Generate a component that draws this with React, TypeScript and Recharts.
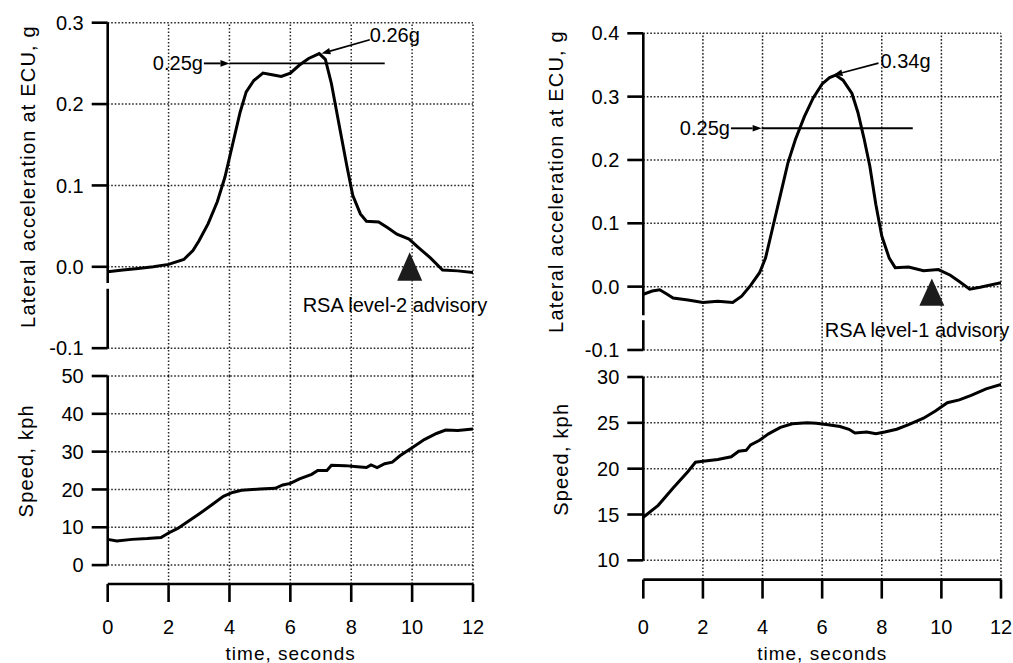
import React from 'react';
import { LineChart, Line, XAxis, YAxis, ReferenceLine } from 'recharts';

const FONT = '"Liberation Sans", Arial, Helvetica, sans-serif';

// ---------- data ----------
const timeTicks = [0, 2, 4, 6, 8, 10, 12];
const gridTimes = [2, 4, 6, 8, 10, 12];

// Left panel — lateral acceleration (g)
const leftAccelTime = [0, 0.5, 1.0, 1.5, 2.0, 2.5, 2.8, 3.0, 3.3, 3.6, 3.85, 4.1, 4.35, 4.55, 4.8, 5.1, 5.4, 5.7, 6.0, 6.3, 6.6, 6.95, 7.15, 7.35, 7.6, 7.85, 8.05, 8.3, 8.5, 8.9, 9.2, 9.5, 9.9, 10.2, 10.6, 11.0, 11.5, 12.0];
const leftAccel = [-0.006, -0.004, -0.002, 0.0, 0.003, 0.009, 0.02, 0.032, 0.053, 0.08, 0.11, 0.15, 0.19, 0.215, 0.229, 0.238, 0.236, 0.234, 0.238, 0.248, 0.256, 0.262, 0.255, 0.225, 0.175, 0.125, 0.088, 0.065, 0.056, 0.055, 0.048, 0.04, 0.034, 0.024, 0.011, -0.004, -0.005, -0.007];

// Left panel — speed (kph)
const leftSpeedTime = [0, 0.3, 0.8, 1.3, 1.75, 2.0, 2.3, 2.6, 3.0, 3.4, 3.8, 4.1, 4.4, 5.0, 5.5, 5.75, 6.0, 6.3, 6.7, 6.9, 7.2, 7.35, 7.8, 8.2, 8.5, 8.65, 8.85, 9.1, 9.35, 9.6, 10.0, 10.4, 10.8, 11.1, 11.5, 12.0];
const leftSpeed = [6.8, 6.4, 6.8, 7.0, 7.3, 8.5, 9.7, 11.3, 13.5, 15.8, 18.2, 19.2, 19.8, 20.1, 20.3, 21.2, 21.6, 22.8, 24.0, 25.0, 25.0, 26.4, 26.3, 26.0, 25.8, 26.5, 25.8, 26.8, 27.2, 28.9, 31.0, 33.2, 34.8, 35.7, 35.6, 36.0];

// Right panel — lateral acceleration (g)
const rightAccelTime = [0, 0.3, 0.55, 0.8, 1.0, 1.5, 2.0, 2.5, 3.0, 3.3, 3.6, 3.9, 4.1, 4.35, 4.6, 4.85, 5.1, 5.4, 5.7, 6.0, 6.25, 6.45, 6.7, 7.0, 7.2, 7.4, 7.6, 7.8, 8.0, 8.25, 8.45, 8.9, 9.4, 9.9, 10.3, 10.6, 10.95, 11.3, 12.0];
const rightAccel = [-0.012, -0.007, -0.005, -0.012, -0.018, -0.021, -0.025, -0.023, -0.025, -0.015, 0.002, 0.022, 0.045, 0.095, 0.145, 0.195, 0.232, 0.268, 0.298, 0.32, 0.33, 0.334, 0.326, 0.305, 0.275, 0.235, 0.19, 0.13, 0.08, 0.045, 0.03, 0.031, 0.025, 0.027, 0.018, 0.008, -0.004, -0.001, 0.006];

// Right panel — speed (kph)
const rightSpeedTime = [0, 0.5, 1.0, 1.5, 1.75, 2.0, 2.5, 2.95, 3.2, 3.45, 3.6, 3.9, 4.2, 4.6, 5.0, 5.5, 5.8, 6.2, 6.6, 6.9, 7.1, 7.5, 7.8, 8.1, 8.5, 8.9, 9.4, 9.8, 10.2, 10.6, 11.0, 11.5, 12.0];
const rightSpeed = [14.7, 16.0, 17.9, 19.7, 20.7, 20.8, 21.0, 21.3, 21.9, 22.0, 22.6, 23.1, 23.8, 24.5, 24.9, 25.0, 24.95, 24.8, 24.6, 24.3, 23.9, 24.0, 23.8, 24.0, 24.3, 24.8, 25.5, 26.3, 27.2, 27.5, 28.0, 28.7, 29.2];

// axis ticks
const leftAccelTicks = [-0.1, 0, 0.1, 0.2, 0.3];
const rightAccelTicks = [-0.1, 0, 0.1, 0.2, 0.3, 0.4];
const leftSpeedTicks = [0, 10, 20, 30, 40, 50];
const rightSpeedTicks = [10, 15, 20, 25, 30];

// annotations (data coordinates)
const leftThreshold = { label: '0.25g', value: 0.25, arrowFrom: 3.16, from: 4, to: 9.1 };
const rightThreshold = { label: '0.25g', value: 0.25, arrowFrom: 2.94, from: 3.97, to: 9.04 };
const leftPeak = { label: '0.26g', textT: 8.61, textA: 0.279, t: 7.02, a: 0.262 };
const rightPeak = { label: '0.34g', textT: 7.89, textA: 0.353, t: 6.38, a: 0.334 };
const leftAdvisory = { label: 'RSA level-2 advisory', t: 9.92, base: -0.017, apex: 0.018 };
const rightAdvisory = { label: 'RSA level-1 advisory', t: 9.68, base: -0.03, apex: 0.013 };

const zip = (ts: number[], vs: number[]) => ts.map((t, i) => ({ t, v: vs[i] }));

// ---------- helpers ----------
const AXIS_W = 2.6;
const GRID_STROKE = '#000';
const GRID_DASH = '1.6 1.9';
const GRID_W = 1.5;

const vTitle = (text: string, x: number, y: number) => () => (
  <text x={x} y={y} transform={`rotate(-90 ${x} ${y})`} textAnchor="middle" fontSize={20}
    letterSpacing={1.2} fontFamily={FONT} fill="#000">{text}</text>
);

const hTitle = (text: string, x: number, y: number) => () => (
  <text x={x} y={y} textAnchor="middle" fontSize={19} letterSpacing={1} fontFamily={FONT} fill="#000">{text}</text>
);

const arrowShape = (label: string, dx: number, dy: number, anchor: 'start' | 'end', lw: number) => (p: any) => {
  const { x1, y1, x2, y2 } = p;
  const ang = Math.atan2(y2 - y1, x2 - x1);
  const L = 9, W = 3.3;
  const bx = x2 - L * Math.cos(ang), by = y2 - L * Math.sin(ang);
  const px = -Math.sin(ang) * W, py = Math.cos(ang) * W;
  return (
    <g>
      <line x1={x1} y1={y1} x2={bx} y2={by} stroke="#000" strokeWidth={lw} />
      <polygon points={`${x2},${y2} ${bx + px},${by + py} ${bx - px},${by - py}`} fill="#000" />
      <text x={x1 + dx} y={y1 + dy} textAnchor={anchor} fontSize={20} fontFamily={FONT} fill="#000">{label}</text>
    </g>
  );
};

const triangleShape = (label: string) => (p: any) => {
  const { x1, y1, x2, y2 } = p;
  const hw = 12.5;
  return (
    <g>
      <polygon points={`${x2},${y2} ${x1 - hw},${y1} ${x1 + hw},${y1}`} fill="#1c1c1c" />
      <text x={x1 - 107} y={y1 + 31} fontSize={20} fontFamily={FONT} fill="#000">{label}</text>
    </g>
  );
};

const plainLine = (p: any) => (
  <line x1={p.x1} y1={p.y1} x2={p.x2} y2={p.y2} stroke="#000" strokeWidth={1.9} />
);

const axisSeg = (p: any) => (
  <line x1={p.x1} y1={p.y1} x2={p.x2} y2={p.y2} stroke="#000" strokeWidth={AXIS_W} />
);

const gridSeg = (p: any) => (
  <line x1={p.x1} y1={p.y1} x2={p.x2} y2={p.y2} stroke={GRID_STROKE} strokeOpacity={0.85} strokeWidth={GRID_W} strokeDasharray={GRID_DASH} />
);

type TopCfg = {
  left: number; top: number; width: number; height: number;
  margin: { top: number; right: number; bottom: number; left: number };
  domain: [number, number]; ticks: number[];
  data: { t: number; v: number }[];
  axisSegments: [number, number][];
  threshold: typeof leftThreshold;
  peak: typeof leftPeak;
  peakDx: number; peakDy: number;
  advisory: typeof leftAdvisory;
  title: { x: number; y: number };
};

function TopChart({ cfg }: { cfg: TopCfg }) {
  return (
    <div style={{ position: 'absolute', left: cfg.left, top: cfg.top }}>
      <LineChart width={cfg.width} height={cfg.height} data={cfg.data} margin={cfg.margin}>
        <XAxis type="number" dataKey="t" domain={[0, 12]} ticks={timeTicks} allowDataOverflow hide />
        <YAxis type="number" domain={cfg.domain} ticks={cfg.ticks} allowDataOverflow interval={0} width={100}
          axisLine={false} stroke="#000" tickLine={{ stroke: '#000', strokeWidth: AXIS_W }} tickSize={16} tickMargin={8}
          tick={{ fill: '#000', fontSize: 20, fontFamily: FONT }}
          tickFormatter={(v: number) => v.toFixed(1)}
          label={{ value: 'Lateral acceleration at ECU, g', content: vTitle('Lateral acceleration at ECU, g', cfg.title.x, cfg.title.y) }} />
        {cfg.ticks.map((v) => (
          <ReferenceLine key={'h' + v} segment={[{ x: 0, y: v }, { x: 12, y: v }]} shape={gridSeg} />
        ))}
        {gridTimes.map((t) => (
          <ReferenceLine key={'v' + t} segment={[{ x: t, y: cfg.domain[0] }, { x: t, y: cfg.domain[1] }]} shape={gridSeg} />
        ))}
        {cfg.axisSegments.map(([a, b], i) => (
          <ReferenceLine key={'ax' + i} segment={[{ x: 0, y: a }, { x: 0, y: b }]} shape={axisSeg} />
        ))}
        <ReferenceLine segment={[{ x: cfg.threshold.from, y: cfg.threshold.value }, { x: cfg.threshold.to, y: cfg.threshold.value }]} shape={plainLine} />
        <ReferenceLine segment={[{ x: cfg.threshold.arrowFrom, y: cfg.threshold.value }, { x: cfg.threshold.from, y: cfg.threshold.value }]}
          shape={arrowShape(cfg.threshold.label, -1, 7, 'end', 1.9)} />
        <ReferenceLine segment={[{ x: cfg.peak.textT, y: cfg.peak.textA }, { x: cfg.peak.t, y: cfg.peak.a }]}
          shape={arrowShape(cfg.peak.label, cfg.peakDx, cfg.peakDy, 'start', 1.7)} />
        <ReferenceLine segment={[{ x: cfg.advisory.t, y: cfg.advisory.base }, { x: cfg.advisory.t, y: cfg.advisory.apex }]}
          shape={triangleShape(cfg.advisory.label)} />
        <Line type="linear" dataKey="v" stroke="#000" strokeWidth={3} dot={false} isAnimationActive={false} />
      </LineChart>
    </div>
  );
}

type BottomCfg = {
  left: number; top: number; width: number; height: number;
  margin: { top: number; right: number; bottom: number; left: number };
  domain: [number, number]; ticks: number[];
  data: { t: number; v: number }[];
  axisRange: [number, number];
  xAxisHeight: number; xTickSize: number; xTickMargin: number;
  title: { x: number; y: number };
  xTitle: { x: number; y: number };
};

function BottomChart({ cfg }: { cfg: BottomCfg }) {
  return (
    <div style={{ position: 'absolute', left: cfg.left, top: cfg.top }}>
      <LineChart width={cfg.width} height={cfg.height} data={cfg.data} margin={cfg.margin}>
        <XAxis type="number" dataKey="t" domain={[0, 12]} ticks={timeTicks} allowDataOverflow interval={0}
          height={cfg.xAxisHeight} stroke="#000"
          axisLine={{ stroke: '#000', strokeWidth: AXIS_W }}
          tickLine={{ stroke: '#000', strokeWidth: AXIS_W }}
          tickSize={cfg.xTickSize} tickMargin={cfg.xTickMargin}
          tick={{ fill: '#000', fontSize: 20, fontFamily: FONT }}
          label={{ value: 'time, seconds', content: hTitle('time, seconds', cfg.xTitle.x, cfg.xTitle.y) }} />
        <YAxis type="number" domain={cfg.domain} ticks={cfg.ticks} allowDataOverflow interval={0} width={100}
          axisLine={false} stroke="#000" tickLine={{ stroke: '#000', strokeWidth: AXIS_W }} tickSize={16} tickMargin={8}
          tick={{ fill: '#000', fontSize: 20, fontFamily: FONT }}
          label={{ value: 'Speed, kph', content: vTitle('Speed, kph', cfg.title.x, cfg.title.y) }} />
        {cfg.ticks.map((v) => (
          <ReferenceLine key={'h' + v} segment={[{ x: 0, y: v }, { x: 12, y: v }]} shape={gridSeg} />
        ))}
        {gridTimes.map((t) => (
          <ReferenceLine key={'v' + t} segment={[{ x: t, y: cfg.domain[0] }, { x: t, y: cfg.domain[1] }]} shape={gridSeg} />
        ))}
        <ReferenceLine segment={[{ x: 0, y: cfg.axisRange[0] }, { x: 0, y: cfg.axisRange[1] }]} shape={axisSeg} />
        <Line type="linear" dataKey="v" stroke="#000" strokeWidth={3} dot={false} isAnimationActive={false} />
      </LineChart>
    </div>
  );
}

const leftTopCfg: TopCfg = {
  left: 0, top: 0, width: 500, height: 380,
  margin: { top: 22.7, right: 27, bottom: 4, left: 7.7 },
  domain: [-0.1342, 0.3], ticks: leftAccelTicks,
  data: zip(leftAccelTime, leftAccel),
  axisSegments: [[0.3, -0.02], [-0.027, -0.1]],
  threshold: leftThreshold, peak: leftPeak, peakDx: 0, peakDy: 2,
  advisory: leftAdvisory,
  title: { x: 35, y: 176.5 },
};

// bottom charts are shifted up by 14px with a 14px top margin so the top tick label is not clipped
const leftBottomCfg: BottomCfg = {
  left: 0, top: 362, width: 500, height: 301,
  margin: { top: 14, right: 27, bottom: 0, left: 7.7 },
  domain: [-5, 50], ticks: leftSpeedTicks,
  data: zip(leftSpeedTime, leftSpeed),
  axisRange: [0, 50],
  xAxisHeight: 79, xTickSize: 18, xTickMargin: 18,
  title: { x: 33.5, y: 98.8 },
  xTitle: { x: 290.7, y: 298 },
};

const rightTopCfg: TopCfg = {
  left: 520, top: 0, width: 493, height: 381,
  margin: { top: 33.3, right: 12, bottom: 4.3, left: 23.3 },
  domain: [-0.1422, 0.4], ticks: rightAccelTicks,
  data: zip(rightAccelTime, rightAccel),
  axisSegments: [[0.4, -0.045], [-0.053, -0.1]],
  threshold: rightThreshold, peak: rightPeak, peakDx: 2, peakDy: 5,
  advisory: rightAdvisory,
  title: { x: 43, y: 181.5 },
};

const rightBottomCfg: BottomCfg = {
  left: 520, top: 362.7, width: 493, height: 300.3,
  margin: { top: 14, right: 12, bottom: 0, left: 23.3 },
  domain: [7.9, 30], ticks: rightSpeedTicks,
  data: zip(rightSpeedTime, rightSpeed),
  axisRange: [10, 30],
  xAxisHeight: 83.7, xTickSize: 19, xTickMargin: 21,
  title: { x: 48, y: 96.3 },
  xTitle: { x: 302.3, y: 296.8 },
};

export default function App() {
  return (
    <div style={{ position: 'absolute', left: 0, top: 0, width: 1013, height: 663, background: '#fff', overflow: 'hidden' }}>
      <TopChart cfg={leftTopCfg} />
      <BottomChart cfg={leftBottomCfg} />
      <TopChart cfg={rightTopCfg} />
      <BottomChart cfg={rightBottomCfg} />
    </div>
  );
}
